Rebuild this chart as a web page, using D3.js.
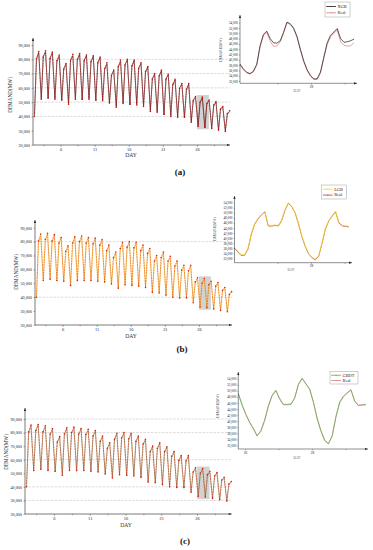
<!DOCTYPE html>
<html>
<head>
<meta charset="utf-8">
<script src="https://cdn.jsdelivr.net/npm/d3@7"></script>
<style>
body{margin:0;background:#fff}
svg{display:block}
text{font-family:"Liberation Serif","DejaVu Serif",serif;opacity:0.99}
</style>
</head>
<body>
<div id="chart"></div>
<script>
// ---- main charts: one trough (~4h), morning peak (~11h), evening peak (~19h) per day, in thousand MW
var days = [2,3,4,5,6,7,8,9,10,11,12,13,14,15,16,17,18,19,20,21,22,23,24,25,26,27,28,29,30];
var realTrough = [40.0,52.0,53.0,52.0,51.5,48.5,52.0,52.0,52.0,51.5,51.0,49.5,46.5,49.0,48.5,48.0,47.0,43.5,43.0,41.5,40.0,39.5,39.5,36.0,33.0,32.5,31.5,30.5,29.5];
var realAm     = [80.5,81.5,80.5,79.0,73.0,79.0,80.0,79.0,78.5,77.5,73.5,68.5,75.0,76.0,75.5,73.5,71.5,66.0,68.5,66.0,62.5,59.5,59.0,51.0,50.0,49.0,48.0,45.0,42.0];
var realPeak   = [85.5,86.0,85.0,83.0,77.0,83.5,84.0,83.0,82.5,81.5,77.5,72.5,79.5,80.0,79.5,77.5,75.0,70.0,72.5,69.5,66.0,63.0,63.0,54.0,53.5,51.5,50.5,47.0,44.0];

var xgbTrough = [41.0,52.5,52.5,52.5,51.0,49.0,52.5,51.5,52.5,51.0,51.5,49.0,47.0,49.5,48.0,48.5,47.5,44.0,43.5,41.0,40.5,40.0,39.0,36.5,33.5,32.0,32.0,30.0,30.0];
var xgbAm     = [80.0,82.0,81.0,78.5,73.5,79.5,79.5,79.5,78.0,78.0,73.0,69.0,74.5,76.5,75.0,74.0,71.0,66.5,68.0,66.5,62.0,60.0,58.5,51.5,49.5,49.5,47.5,45.5,41.5];
var xgbPeak   = [84.5,85.0,84.5,82.0,76.5,82.5,83.5,82.5,82.0,81.0,76.5,72.0,78.5,79.5,79.0,77.0,74.5,69.5,72.0,69.0,65.5,62.5,62.5,53.5,53.0,51.0,50.0,46.5,43.5];

var lgbTrough = [40.5,52.5,53.5,51.5,51.0,49.0,51.5,52.5,51.5,52.0,50.5,49.0,47.0,48.5,49.0,47.5,47.5,43.0,43.5,41.0,40.5,39.0,40.0,36.5,33.5,33.0,31.0,31.0,29.5];
var lgbAm     = [78.5,79.5,79.0,77.5,71.5,77.0,78.5,77.5,77.0,76.0,72.0,67.0,73.5,74.5,74.0,72.0,70.0,64.5,67.0,64.5,61.0,58.0,57.5,50.0,48.5,47.5,46.5,44.0,41.0];
var lgbPeak   = [84.0,85.0,84.0,82.5,76.0,82.5,83.0,82.0,81.5,80.5,76.5,71.5,78.5,79.0,78.5,76.5,74.0,69.5,71.5,68.5,65.5,62.0,62.0,53.5,53.0,51.0,50.0,46.5,43.5];

var gbdtTrough = [41.5,52.5,53.0,52.5,51.0,49.5,52.0,51.5,52.5,51.5,51.0,49.5,47.5,49.0,48.0,48.5,47.0,44.0,43.0,42.0,40.5,39.5,39.0,36.5,33.5,32.5,31.5,30.5,30.0];
var gbdtAm     = [79.5,81.0,80.0,78.0,72.5,78.5,79.5,78.5,78.0,77.0,73.0,68.0,74.5,75.5,75.0,73.0,71.0,65.5,68.0,65.5,62.0,59.0,58.5,50.5,49.5,48.5,47.5,44.5,41.5];
var gbdtPeak   = [84.5,85.5,84.0,82.5,76.5,83.0,83.0,82.5,81.5,81.0,77.0,72.0,79.0,79.0,79.0,77.0,74.5,69.5,72.0,69.0,65.5,62.5,62.5,53.5,53.0,51.0,50.0,46.5,43.5];

var mainYTicks = [20,30,40,50,60,70,80,90];
var mainXLabels = [6,11,16,21,26];
var mainXMinor = [3.5,8.5,13.5,18.5,23.5,28.5];
var boxDays = [26.0, 27.75];
var boxVals = [31, 55];

// ---- zoomed insets (thousand MW, evenly spaced samples)
var insetTicks = [32,34,36,38,40,42,44,46,48,50,52,54];
var realA = [38.0,36.2,35.1,34.6,35.5,38.0,44.9,49.2,50.3,47.0,45.1,45.2,46.8,50.0,54.0,53.2,51.6,48.5,43.7,39.3,36.0,33.8,32.6,32.6,35.0,40.5,45.8,48.7,50.0,51.2,46.8,45.5,45.2,45.3,46.5];
var xgbA  = [38.4,36.6,35.3,34.8,35.7,38.3,45.4,49.6,50.8,48.0,46.4,46.3,47.2,50.4,54.2,53.6,52.0,48.8,44.0,39.6,36.3,34.1,32.8,32.8,35.4,41.0,46.4,49.2,50.5,51.8,48.0,46.6,46.8,47.2,47.8];
var realB = [36.0,34.5,33.1,33.2,35.6,41.5,45.5,47.6,49.2,50.4,44.8,44.7,45.0,44.8,46.9,51.0,53.8,52.4,50.0,45.6,40.6,36.7,33.8,32.2,31.4,32.8,37.9,43.6,46.8,48.7,50.4,46.0,44.8,44.6,44.4];
var lgbB  = [36.3,34.8,33.4,33.4,35.9,41.9,45.8,47.9,49.4,50.5,45.2,45.0,45.2,45.1,47.2,51.3,54.0,52.6,50.1,45.9,40.9,37.0,34.0,32.4,31.7,33.1,38.2,43.9,47.0,48.9,50.6,46.3,45.1,44.9,44.7];
var realC = [49.2,45.5,42.4,39.8,37.7,35.3,36.6,40.0,44.8,48.3,50.0,47.6,45.6,45.6,45.7,47.7,52.0,54.0,52.2,50.5,46.4,41.0,37.0,33.8,32.7,35.0,41.3,46.1,48.0,49.2,50.2,46.7,45.3,45.4,45.6];
var gbdtC = [49.0,45.3,42.2,39.6,37.5,35.1,36.9,40.4,45.1,48.6,50.2,47.2,45.4,45.4,45.5,47.5,52.2,54.2,52.4,50.6,46.2,40.7,36.7,33.6,32.5,35.3,41.6,46.4,48.3,49.4,50.4,46.5,45.1,45.3,45.4];

var svg = d3.select("#chart").append("svg").attr("width", 373).attr("height", 550);
var fmt = function(d) { return d3.format(",")(d * 1000); };

function toPoints(trough, am, peak) {
  var pts = [];
  for (var i = 0; i < days.length; i++) {
    pts.push({t: days[i] + 4/24, v: trough[i]});
    pts.push({t: days[i] + 11/24, v: am[i]});
    pts.push({t: days[i] + 19/24, v: peak[i]});
  }
  return pts;
}

function upArrow(g, x, y) {
  g.append("path").attr("d", "M" + (x-1.1) + "," + (y+3) + "L" + x + "," + y + "L" + (x+1.1) + "," + (y+3) + "Z").style("fill", "#222");
}
function rightArrow(g, x, y) {
  g.append("path").attr("d", "M" + (x-3) + "," + (y-1.1) + "L" + x + "," + y + "L" + (x-3) + "," + (y+1.1) + "Z").style("fill", "#222");
}

function drawMain(p) {
  var x = d3.scaleLinear().domain([1.95, 30.85]).range([p.x0, p.x1]);
  var y = d3.scaleLinear().domain([20, 90]).range([p.yb, p.yt]);
  var g = svg.append("g");

  g.selectAll(".grid").data(p.grid).enter().append("line")
    .attr("x1", p.x0).attr("x2", p.x1)
    .attr("y1", function(d) { return y(d); }).attr("y2", function(d) { return y(d); })
    .style("stroke", "#c4c4c4").style("stroke-width", 0.6).style("stroke-dasharray", "2.5,1.2");

  g.append("rect")
    .attr("x", x(boxDays[0])).attr("width", x(boxDays[1]) - x(boxDays[0]))
    .attr("y", y(boxVals[1])).attr("height", y(boxVals[0]) - y(boxVals[1]))
    .style("fill", "#d2d2d2");

  var line = d3.line().x(function(d) { return x(d.t); }).y(function(d) { return y(d.v); });
  var real = toPoints(realTrough, realAm, realPeak);
  var pred = toPoints(p.pred[0], p.pred[1], p.pred[2]);

  g.append("path").datum(pred).attr("d", line)
    .style("fill", "none").style("stroke", p.predColor).style("stroke-width", p.predWidth);
  g.append("path").datum(real).attr("d", line)
    .style("fill", "none").style("stroke", p.realColor).style("stroke-width", 0.6)
    .style("stroke-dasharray", "2,0.6");
  g.selectAll(".dot").data(real).enter().append("circle")
    .attr("cx", function(d) { return x(d.t); }).attr("cy", function(d) { return y(d.v); })
    .attr("r", 0.8).style("fill", p.dotColor);

  // axes
  var ya = d3.axisLeft(y).tickValues(mainYTicks).tickSize(1.5).tickPadding(1.5).tickFormat(fmt);
  var ayg = g.append("g").attr("transform", "translate(" + p.x0 + ",0)").call(ya);
  ayg.select(".domain").remove();
  ayg.selectAll("text").style("font-size", "4.2px").style("font-family", "Liberation Serif").style("fill", "#222");
  ayg.selectAll("line").style("stroke", "#222").style("stroke-width", 0.4);

  var xa = d3.axisBottom(x).tickValues(mainXLabels).tickSize(1.8).tickPadding(1.5).tickFormat(d3.format("d"));
  var axg = g.append("g").attr("transform", "translate(0," + p.yb + ")").call(xa);
  axg.select(".domain").remove();
  axg.selectAll("text").style("font-size", "4.4px").style("font-family", "Liberation Serif").style("fill", "#222");
  axg.selectAll("line").style("stroke", "#222").style("stroke-width", 0.4);
  var xm = d3.axisBottom(x).tickValues(mainXMinor).tickSize(1.2).tickFormat("");
  var amg = g.append("g").attr("transform", "translate(0," + p.yb + ")").call(xm);
  amg.select(".domain").remove();
  amg.selectAll("line").style("stroke", "#222").style("stroke-width", 0.4);

  g.append("line").attr("x1", p.x0).attr("x2", p.x0).attr("y1", p.yb).attr("y2", p.top)
    .style("stroke", "#222").style("stroke-width", 0.6);
  g.append("line").attr("x1", p.x0).attr("x2", p.x1).attr("y1", p.yb).attr("y2", p.yb)
    .style("stroke", "#222").style("stroke-width", 0.6);
  upArrow(g, p.x0, p.top);
  rightArrow(g, p.x1, p.yb);

  g.append("text").attr("x", p.dayX).attr("y", p.dayY).attr("text-anchor", "middle")
    .style("font-size", "5.6px").style("fill", "#333").text("DAY");
  g.append("text").attr("transform", "translate(" + p.titleX + "," + p.titleY + ") rotate(-90)")
    .attr("text-anchor", "middle").style("font-size", "5.2px").style("fill", "#333").text("DEMAND(MW)");
  g.append("text").attr("x", p.labX).attr("y", p.labY).attr("text-anchor", "middle")
    .style("font-size", "9px").style("font-weight", "bold").style("fill", "#111").text(p.label);
}

function drawInset(p) {
  var n = p.real.length;
  var xi = d3.scaleLinear().domain([0, n - 1]).range([p.cx0, p.cx1]);
  var y = d3.scaleLinear().domain([32, 54]).range([p.y32, p.y54]);
  var xd = d3.scaleLinear().domain([26, 28]).range([p.d26, p.d28]);
  var g = svg.append("g");

  var line = d3.line().x(function(d, i) { return xi(i); }).y(function(d) { return y(d); });
  g.append("path").datum(p.real).attr("d", line)
    .style("fill", "none").style("stroke", p.realColor).style("stroke-width", 0.7);
  g.append("path").datum(p.pred).attr("d", line)
    .style("fill", "none").style("stroke", p.predColor).style("stroke-width", 0.7);

  var ya = d3.axisLeft(y).tickValues(insetTicks).tickSize(1).tickPadding(1).tickFormat(fmt);
  var ayg = g.append("g").attr("transform", "translate(" + p.ax + ",0)").call(ya);
  ayg.select(".domain").remove();
  ayg.selectAll("text").style("font-size", "3.3px").style("font-family", "Liberation Serif").style("fill", "#222");
  ayg.selectAll("line").style("stroke", "#222").style("stroke-width", 0.35);

  var xa = d3.axisBottom(xd).tickValues(p.xticks).tickSize(1.2).tickPadding(1)
    .tickFormat(function(d) { return p.xlabels.indexOf(d) >= 0 ? d : ""; });
  var axg = g.append("g").attr("transform", "translate(0," + p.ab + ")").call(xa);
  axg.select(".domain").remove();
  axg.selectAll("text").style("font-size", "3.4px").style("font-family", "Liberation Serif").style("fill", "#222");
  axg.selectAll("line").style("stroke", "#222").style("stroke-width", 0.35);

  g.append("line").attr("x1", p.ax).attr("x2", p.ax).attr("y1", p.ab).attr("y2", p.at)
    .style("stroke", "#222").style("stroke-width", 0.5);
  g.append("line").attr("x1", p.ax).attr("x2", p.ar).attr("y1", p.ab).attr("y2", p.ab)
    .style("stroke", "#222").style("stroke-width", 0.5);
  upArrow(g, p.ax, p.at);
  rightArrow(g, p.ar, p.ab);

  g.append("text").attr("x", p.dayX).attr("y", p.dayY).attr("text-anchor", "middle")
    .style("font-size", "3.4px").style("fill", "#666").text("DAY");
  g.append("text").attr("transform", "translate(" + p.titleX + "," + p.titleY + ") rotate(-90)")
    .attr("text-anchor", "middle").style("font-size", "3.4px").style("fill", "#555").text("DEMAND(MW)");

  // legend
  var L = p.leg;
  g.append("rect").attr("x", L.x).attr("y", L.y).attr("width", L.w).attr("height", L.h)
    .style("fill", "#fff").style("stroke", "#777").style("stroke-width", 0.35);
  var rows = [{name: p.predName, c: p.predColor}, {name: "Real", c: p.realColor}];
  rows.forEach(function(r, i) {
    var yy = L.y + L.h * (i === 0 ? 0.3 : 0.72);
    g.append("line").attr("x1", L.x + 1.2).attr("x2", L.x + 11).attr("y1", yy).attr("y2", yy)
      .style("stroke", r.c).style("stroke-width", 0.8);
    g.append("circle").attr("cx", L.x + 6.1).attr("cy", yy).attr("r", 0.5).style("fill", r.c);
    g.append("text").attr("x", L.x + 12.5).attr("y", yy + 1.4)
      .style("font-size", "4.4px").style("fill", "#222").text(r.name);
  });
}

drawMain({x0: 33, x1: 230, yb: 145, yt: 45, top: 38, grid: [40,50,60,70,80],
  pred: [xgbTrough, xgbAm, xgbPeak], predColor: "#111", predWidth: 0.6, realColor: "#c41010", dotColor: "#d01515",
  dayX: 131, dayY: 157, titleX: 12, titleY: 95, labX: 180, labY: 175, label: "(a)"});
drawMain({x0: 35, x1: 232, yb: 325, yt: 227.7, top: 220, grid: [40,80],
  pred: [lgbTrough, lgbAm, lgbPeak], predColor: "#f7d51a", predWidth: 0.6, realColor: "#e24a1a", dotColor: "#e02a10",
  dayX: 131, dayY: 338, titleX: 18, titleY: 272, labX: 182, labY: 352, label: "(b)"});
drawMain({x0: 25, x1: 231.7, yb: 514, yt: 419, top: 408, grid: [30,40,60,80,90],
  pred: [gbdtTrough, gbdtAm, gbdtPeak], predColor: "#7aa25a", predWidth: 0.6, realColor: "#cc2a1a", dotColor: "#dd1a10",
  dayX: 126, dayY: 527, titleX: 8, titleY: 452, labX: 185, labY: 544, label: "(c)"});

drawInset({real: realA, pred: xgbA, predName: "XGB", predColor: "#1a1a1a", realColor: "#e07878",
  cx0: 240, cx1: 354, y32: 81, y54: 22.7, ax: 240, ab: 83.3, at: 15, ar: 357,
  d26: 244, d28: 311, xticks: [27, 28, 29], xlabels: [28],
  dayX: 297, dayY: 92, titleX: 222, titleY: 50,
  leg: {x: 325, y: 2, w: 25, h: 15}});
drawInset({real: realB, pred: lgbB, predName: "LGB", predColor: "#f2dc10", realColor: "#b8402c",
  cx0: 234.5, cx1: 349, y32: 258.3, y54: 202.7, ax: 234.5, ab: 262.7, at: 196, ar: 352,
  d26: 244, d28: 311, xticks: [27, 28, 29], xlabels: [28],
  dayX: 291, dayY: 271, titleX: 216, titleY: 229,
  leg: {x: 321.7, y: 185, w: 24.5, h: 14}});
drawInset({real: realC, pred: gbdtC, predName: "GBDT", predColor: "#4fb04f", realColor: "#e07a7a",
  cx0: 238.3, cx1: 366, y32: 445.5, y54: 378.7, ax: 238.3, ab: 449, at: 372, ar: 368,
  d26: 245, d28: 312, xticks: [26, 27, 28, 29], xlabels: [26, 28],
  dayX: 297, dayY: 459, titleX: 219, titleY: 406,
  leg: {x: 330, y: 371.5, w: 28, h: 12.5}});
</script>
</body>
</html>
